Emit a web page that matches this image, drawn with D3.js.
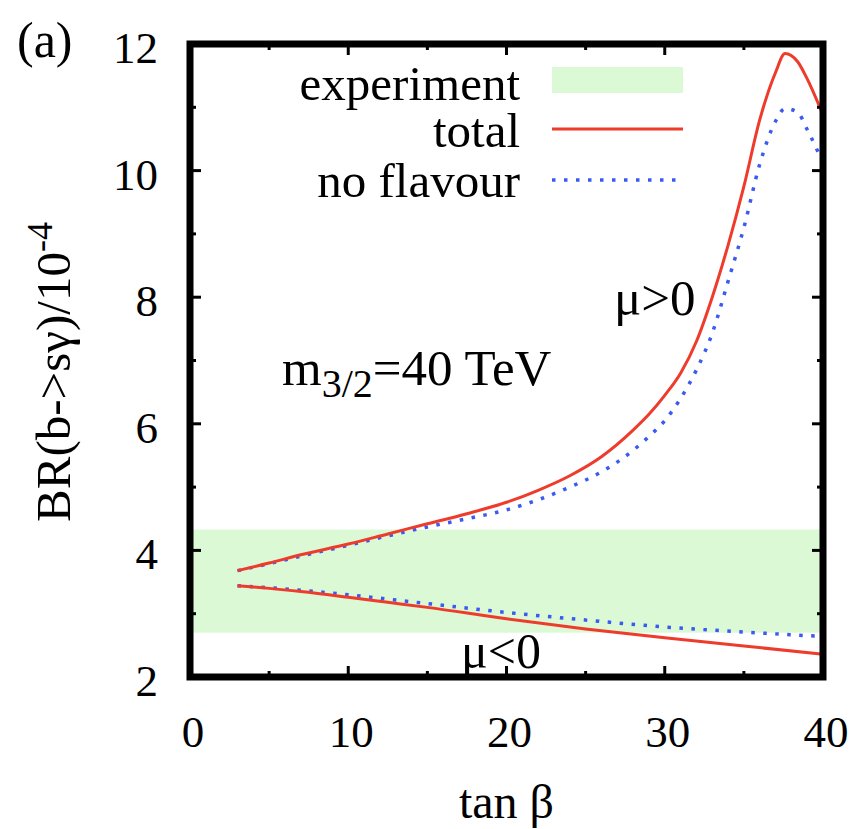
<!DOCTYPE html>
<html>
<head>
  <title>BR(b->s gamma) vs tan beta</title>
  <script src="https://d3js.org/d3.v7.min.js"></script>
</head>
<body style="margin:0">
<script type="text/javascript">
  var w = 856;
  var h = 829;

  // upper branch (mu > 0)
  var tanbUp = [3, 5, 7, 10, 12.5, 15, 17.5, 20, 22, 24, 26, 28, 29, 30, 31, 32, 33, 34, 35, 36, 37, 37.6, 38.4, 39, 40];
  var totalUp = [3.68, 3.80, 3.93, 4.10, 4.26, 4.42, 4.58, 4.76, 4.95, 5.18, 5.48, 5.90, 6.15, 6.45, 6.80, 7.30, 8.00, 8.82, 9.75, 10.80, 11.55, 11.85, 11.72, 11.45, 10.88];
  var noFlavUp = [3.68, 3.79, 3.91, 4.08, 4.23, 4.37, 4.50, 4.64, 4.80, 5.00, 5.24, 5.58, 5.80, 6.05, 6.40, 6.85, 7.43, 8.25, 9.10, 10.10, 10.78, 10.98, 10.92, 10.65, 10.12];

  // lower branch (mu < 0)
  var tanbDown = [3, 5, 7, 10, 12.5, 15, 20, 25, 30, 35, 40];
  var totalDown = [3.44, 3.40, 3.35, 3.26, 3.18, 3.10, 2.92, 2.76, 2.62, 2.49, 2.36];
  var noFlavDown = [3.44, 3.41, 3.37, 3.30, 3.23, 3.16, 3.02, 2.90, 2.79, 2.71, 2.64];

  // experimental band
  var expBand = [2.70, 4.33];

  var xTicks = [0, 10, 20, 30, 40];
  var yTicks = [2, 4, 6, 8, 10, 12];

  var red = "#ee3b2b";
  var blue = "#3a5af0";
  var green = "#dcf9d6";
  var serif = "Liberation Serif";

  var svg = d3.select("body").append("svg")
    .attr("width", w)
    .attr("height", h);

  // every text gets its own font attribute
  function label(px, py, size, str){
    return svg.append("text")
      .attr("x", px).attr("y", py)
      .attr("font-family", serif)
      .attr("font-size", size)
      .attr("fill", "#000")
      .text(str);
  }

  var x = d3.scaleLinear().domain([0, 40]).range([190, 823]);
  var y = d3.scaleLinear().domain([2, 12]).range([677, 44]);

  svg.append("rect")
    .attr("x", x(0))
    .attr("width", x(40) - x(0))
    .attr("y", y(expBand[1]))
    .attr("height", y(expBand[0]) - y(expBand[1]))
    .attr("fill", green);

  var line = d3.line()
    .x(function(d){ return x(d[0]); })
    .y(function(d){ return y(d[1]); })
    .curve(d3.curveMonotoneX);

  function pairs(xs, ys){
    return xs.map(function(v, i){ return [v, ys[i]]; });
  }

  var curves = [
    { pts: pairs(tanbUp, noFlavUp), dotted: true },
    { pts: pairs(tanbDown, noFlavDown), dotted: true },
    { pts: pairs(tanbUp, totalUp), dotted: false },
    { pts: pairs(tanbDown, totalDown), dotted: false }
  ];

  svg.selectAll("path.curve")
    .data(curves)
    .enter()
    .append("path")
    .attr("class", "curve")
    .attr("d", function(d){ return line(d.pts); })
    .attr("fill", "none")
    .attr("stroke", function(d){ return d.dotted ? blue : red; })
    .attr("stroke-width", function(d){ return d.dotted ? 3.5 : 3; })
    .attr("stroke-dasharray", function(d){ return d.dotted ? "3.5,8.5" : null; });

  // ticks on all four sides
  var frame = svg.append("g").attr("stroke", "#000");
  d3.range(0, 41, 5).forEach(function(t){
    var len = (t % 10 === 0) ? 11 : 6;
    frame.append("line").attr("x1", x(t)).attr("x2", x(t))
      .attr("y1", y(2)).attr("y2", y(2) - len).attr("stroke-width", 3);
    frame.append("line").attr("x1", x(t)).attr("x2", x(t))
      .attr("y1", y(12)).attr("y2", y(12) + len).attr("stroke-width", 3);
  });
  d3.range(2, 13, 1).forEach(function(v){
    var len = (v % 2 === 0) ? 11 : 6;
    frame.append("line").attr("y1", y(v)).attr("y2", y(v))
      .attr("x1", x(0)).attr("x2", x(0) + len).attr("stroke-width", 3);
    frame.append("line").attr("y1", y(v)).attr("y2", y(v))
      .attr("x1", x(40)).attr("x2", x(40) - len).attr("stroke-width", 3);
  });

  svg.append("rect")
    .attr("x", x(0))
    .attr("y", y(12))
    .attr("width", x(40) - x(0))
    .attr("height", y(2) - y(12))
    .attr("fill", "none")
    .attr("stroke", "#000")
    .attr("stroke-width", 7);

  // tick labels
  yTicks.forEach(function(v){
    label(158, y(v) + 19, 45, v).attr("text-anchor", "end");
  });
  xTicks.forEach(function(t){
    label(x(t) + 3, 747, 45, t).attr("text-anchor", "middle");
  });

  // axis titles
  label(x(20), 818, 48, "tan \u03b2").attr("text-anchor", "middle");

  var ylab = label(0, 0, 49, null)
    .attr("transform", "translate(70,372) rotate(-90)")
    .attr("text-anchor", "middle");
  ylab.append("tspan").text("BR(b->s\u03b3)/10");
  ylab.append("tspan").attr("dy", -18).attr("font-size", 36).text("-4");

  label(17, 57, 50, "(a)");

  // legend
  var legendLabels = ["experiment", "total", "no flavour"];
  var legendBase = [100, 147, 197];
  legendLabels.forEach(function(s, i){
    label(520, legendBase[i], 49, s).attr("text-anchor", "end");
  });

  svg.append("rect")
    .attr("x", 552).attr("y", 67).attr("width", 131).attr("height", 26)
    .attr("fill", green);
  svg.append("line")
    .attr("x1", 552).attr("x2", 683).attr("y1", 129).attr("y2", 129)
    .attr("stroke", red).attr("stroke-width", 3);
  svg.append("line")
    .attr("x1", 552).attr("x2", 683).attr("y1", 180).attr("y2", 180)
    .attr("stroke", blue).attr("stroke-width", 3.5)
    .attr("stroke-dasharray", "3.5,8.5");

  // annotations
  var m = label(282, 385, 51, null);
  m.append("tspan").text("m");
  m.append("tspan").attr("dy", 12).attr("font-size", 40).text("3/2");
  m.append("tspan").attr("dy", -12).text("=40 TeV");

  label(614, 315, 51, "\u03bc>0");
  label(461, 668, 50, "\u03bc<0");
</script>
</body>
</html>
